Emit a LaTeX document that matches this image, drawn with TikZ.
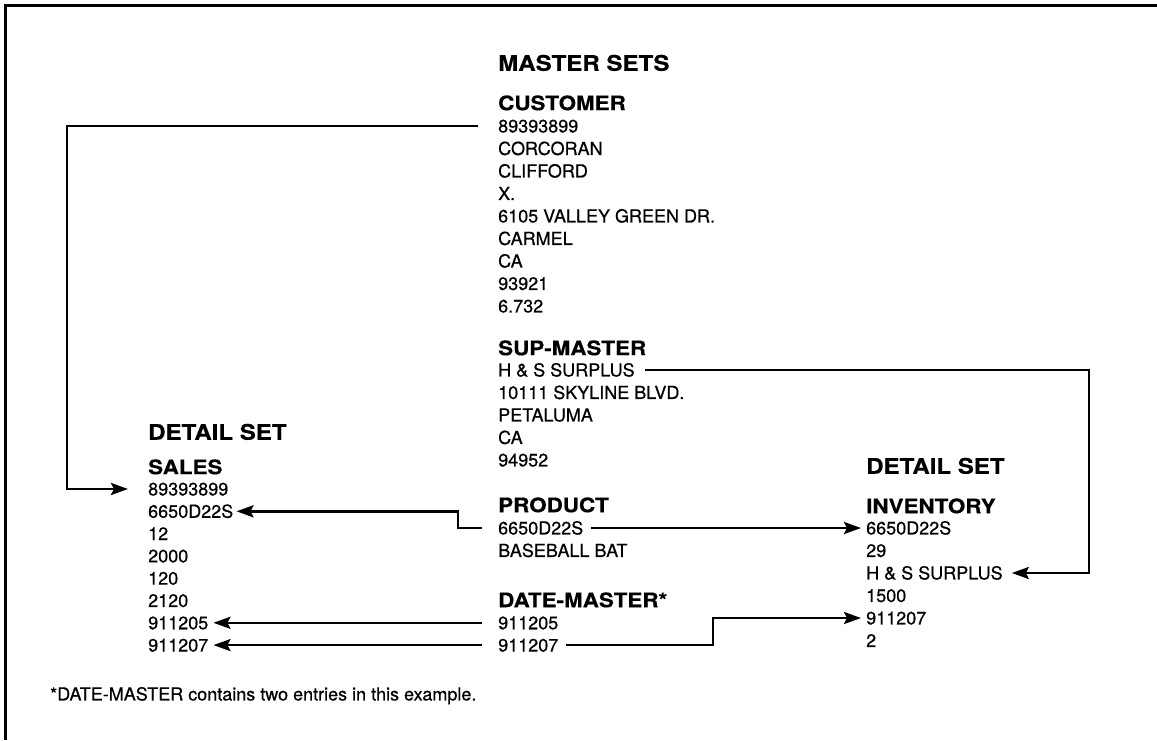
\documentclass[tikz,border=0pt]{standalone}
\usepackage{fontspec}
\setmainfont{TeX Gyre Heros}[UprightFeatures={FakeBold=0.6},BoldFeatures={FakeStretch=1.12,FakeBold=0.4}]
\usetikzlibrary{positioning,arrows.meta}

\begin{document}
\begin{tikzpicture}[x=1pt,y=-1pt,
    field/.style={anchor=west,inner sep=0pt,text height=12.9pt,text depth=0pt,
      font=\fontsize{18}{20}\selectfont},
    setname/.style={anchor=west,inner sep=0pt,text height=14.4pt,text depth=0pt,
      font=\fontsize{20}{22}\selectfont\bfseries},
    kind/.style={anchor=west,inner sep=0pt,text height=15.5pt,text depth=0pt,
      font=\fontsize{21.5}{24}\selectfont\bfseries},
    link/.style={line width=2.6pt,-{Stealth[length=17pt,width=12pt,inset=3pt]}}]
  \useasboundingbox (0,0) rectangle (1157,740);

  % frame, open at right and bottom
  \draw[line width=2.8pt] (5.5,740) -- (5.5,5.5) -- (1157,5.5);

  % master sets
  \node[kind] (mhead) at (498,63) {MASTER SETS};

  \node[setname] (cust) at (498,103) {CUSTOMER};
  \node[field] (cust1) at (498,126) {89393899};
  \node[field] (cust2) at (498,148.5) {CORCORAN};
  \node[field] (cust3) at (498,171) {CLIFFORD};
  \node[field] (cust4) at (498,193.5) {X.};
  \node[field] (cust5) at (498,216) {6105 VALLEY GREEN DR.};
  \node[field] (cust6) at (498,238.5) {CARMEL};
  \node[field] (cust7) at (498,261) {CA};
  \node[field] (cust8) at (498,283.5) {93921};
  \node[field] (cust9) at (498,306) {6.732};

  \node[setname] (sup) at (498,348) {SUP-MASTER};
  \node[field] (sup1) at (498,370) {H \& S SURPLUS};
  \node[field] (sup2) at (498,392.5) {10111 SKYLINE BLVD.};
  \node[field] (sup3) at (498,415) {PETALUMA};
  \node[field] (sup4) at (498,437.5) {CA};
  \node[field] (sup5) at (498,460) {94952};

  \node[setname] (prod) at (498,505) {PRODUCT};
  \node[field] (prod1) at (498,528) {6650D22S};
  \node[field] (prod2) at (498,550.5) {BASEBALL BAT};

  \node[setname] (date) at (498,600) {DATE-MASTER*};
  \node[field] (date1) at (498,622.8) {911205};
  \node[field] (date2) at (498,645.1) {911207};

  % detail set, left
  \node[kind] (ldet) at (148,432) {DETAIL SET};
  \node[setname] (sales) at (148,467) {SALES};
  \node[field] (sales1) at (148,489) {89393899};
  \node[field] (sales2) at (148,511.3) {6650D22S};
  \node[field] (sales3) at (148,533.6) {12};
  \node[field] (sales4) at (148,555.9) {2000};
  \node[field] (sales5) at (148,578.2) {120};
  \node[field] (sales6) at (148,600.5) {2120};
  \node[field] (sales7) at (148,622.8) {911205};
  \node[field] (sales8) at (148,645.1) {911207};

  % detail set, right
  \node[kind] (rdet) at (866,466) {DETAIL SET};
  \node[setname] (inv) at (866,506) {INVENTORY};
  \node[field] (inv1) at (866,528) {6650D22S};
  \node[field] (inv2) at (866,550.5) {29};
  \node[field] (inv3) at (866,573) {H \& S SURPLUS};
  \node[field] (inv4) at (866,595.5) {1500};
  \node[field] (inv5) at (866,618) {911207};
  \node[field] (inv6) at (866,640.5) {2};

  \node[field] (note) at (50,694) {*DATE-MASTER contains two entries in this example.};

  % turning points of the links
  \coordinate (lrail) at (67,0);
  \coordinate (rrail) at (1089,0);
  \coordinate (pstep) at (458,0);
  \coordinate (dstep) at (713,0);

  % links
  \draw[link] ([xshift=-20pt]cust1.west) -- (cust1.west -| lrail) |- ([xshift=-20pt]sales1.west);
  \draw[link] ([xshift=10pt]sup1.east) -- (sup1.east -| rrail) |- ([xshift=9pt]inv3.east);
  \draw[link] ([xshift=-16pt]prod1.west) -- (prod1.west -| pstep) |- ([xshift=3pt]sales2.east);
  \draw[link] ([xshift=8pt]prod1.east) -- ([xshift=-5pt]inv1.west);
  \draw[link] ([xshift=-16pt]date1.west) -- ([xshift=5pt]sales7.east);
  \draw[link] ([xshift=-16pt]date2.west) -- ([xshift=5pt]sales8.east);
  \draw[link] ([xshift=8pt]date2.east) -- (date2.east -| dstep) |- ([xshift=-5pt]inv5.west);
\end{tikzpicture}
\end{document}
